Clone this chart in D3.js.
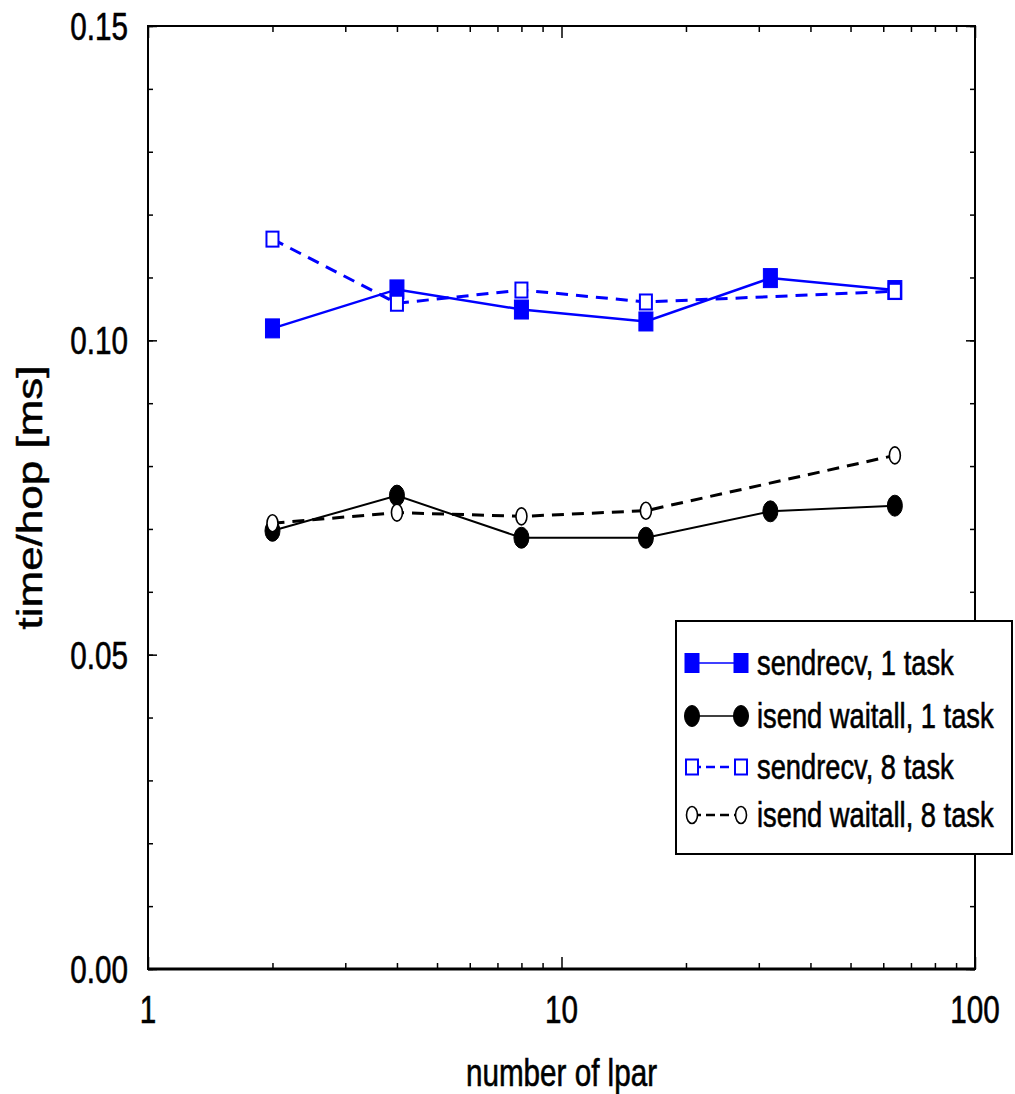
<!DOCTYPE html>
<html>
<head>
<meta charset="utf-8">
<script src="https://cdn.jsdelivr.net/npm/d3@7"></script>
<style>
  body { margin: 0; background: #fff; }
  text { font-family: "Liberation Sans", Arial, Helvetica, sans-serif; fill: #000; stroke: #000; stroke-width: 0.6; }
</style>
</head>
<body>
<svg id="chart" width="1015" height="1094"></svg>
<script>
// Measured time per hop versus number of LPARs
const lparCounts  = [2, 4, 8, 16, 32, 64];
const lparCounts8 = [2, 4, 8, 16, 64];
const sendrecv1 = [0.1019, 0.1081, 0.1049, 0.1030, 0.1099, 0.1080];
const isend1    = [0.0697, 0.0753, 0.0686, 0.0686, 0.0728, 0.0737];
const sendrecv8 = [0.1161, 0.1059, 0.1080, 0.1061, 0.1078];
const isend8    = [0.0709, 0.0726, 0.0720, 0.0729, 0.0817];

const yMajorTicks = [0, 0.05, 0.10, 0.15];
const yMinorTicks = d3.range(0, 0.1501, 0.01);
const xMajorTicks = [1, 10, 100];
const xMinorTicks = [2,3,4,5,6,7,8,9,20,30,40,50,60,70,80,90];
const seriesLabels = ["sendrecv, 1 task", "isend waitall, 1 task", "sendrecv, 8 task", "isend waitall, 8 task"];

const m = { left: 148, right: 975, top: 26, bottom: 969 };
const squeeze = 0.78;   // glyphs are drawn narrower than tall

const svg = d3.select("#chart");
const x = d3.scaleLog().domain([1, 100]).range([m.left, m.right]);
const y = d3.scaleLinear().domain([0, 0.15]).range([m.bottom, m.top]);

const BLUE = "#0000ff", BLACK = "#000";

const series = [
  { label: seriesLabels[0], xs: lparCounts,  ys: sendrecv1, color: BLUE,  dash: null,   width: 2.5, marker: "square", filled: true },
  { label: seriesLabels[1], xs: lparCounts,  ys: isend1,    color: BLACK, dash: null,   width: 2,   marker: "circle", filled: true },
  { label: seriesLabels[2], xs: lparCounts8, ys: sendrecv8, color: BLUE,  dash: "12,8", width: 3,   marker: "square", filled: false },
  { label: seriesLabels[3], xs: lparCounts8, ys: isend8,    color: BLACK, dash: "12,8", width: 3,   marker: "circle", filled: false }
];

function drawMarker(g, s, cx, cy) {
  if (s.marker === "square") {
    const w = s.filled ? 14 : 12, h = s.filled ? 19 : 15;
    g.append("rect")
      .attr("x", cx - w / 2).attr("y", cy - h / 2)
      .attr("width", w).attr("height", h)
      .attr("fill", s.filled ? s.color : "#fff")
      .attr("stroke", s.color)
      .attr("stroke-width", s.filled ? 1 : 2);
  } else {
    const rx = s.filled ? 7.5 : 5.5, ry = s.filled ? 10.5 : 8.5;
    g.append("ellipse")
      .attr("cx", cx).attr("cy", cy)
      .attr("rx", rx).attr("ry", ry)
      .attr("fill", s.filled ? s.color : "#fff")
      .attr("stroke", s.color)
      .attr("stroke-width", s.filled ? 1 : 1.6);
  }
}

// Frame
svg.append("rect")
  .attr("x", m.left).attr("y", m.top)
  .attr("width", m.right - m.left).attr("height", m.bottom - m.top)
  .attr("fill", "none").attr("stroke", "#000").attr("stroke-width", 2);
svg.append("line")
  .attr("x1", m.left).attr("x2", m.right)
  .attr("y1", m.bottom).attr("y2", m.bottom)
  .attr("stroke", "#000").attr("stroke-width", 3);

// Inward ticks on all four sides
function tickAxis(axis, transform, values, size) {
  const g = svg.append("g").attr("transform", transform)
    .call(axis.tickValues(values).tickSize(size).tickFormat(""));
  g.select(".domain").remove();
  g.selectAll(".tick line").attr("stroke", "#000").attr("stroke-width", 1.5);
  return g;
}
tickAxis(d3.axisLeft(y),   `translate(${m.left},0)`,  yMajorTicks, -9);
tickAxis(d3.axisLeft(y),   `translate(${m.left},0)`,  yMinorTicks, -5);
tickAxis(d3.axisRight(y),  `translate(${m.right},0)`, yMajorTicks, -9);
tickAxis(d3.axisRight(y),  `translate(${m.right},0)`, yMinorTicks, -5);
tickAxis(d3.axisBottom(x), `translate(0,${m.bottom})`, xMajorTicks, -12);
tickAxis(d3.axisBottom(x), `translate(0,${m.bottom})`, xMinorTicks, -6);
tickAxis(d3.axisTop(x),    `translate(0,${m.top})`,   xMajorTicks, -12);
tickAxis(d3.axisTop(x),    `translate(0,${m.top})`,   xMinorTicks, -6);

// Tick labels
const fmtY = d3.format(".2f");
svg.append("g").selectAll("text").data(yMajorTicks).join("text")
  .attr("transform", d => `translate(128,${y(d) + 14}) scale(${squeeze},1)`)
  .attr("text-anchor", "end")
  .attr("font-size", 38)
  .text(fmtY);
svg.append("g").selectAll("text").data(xMajorTicks).join("text")
  .attr("transform", d => `translate(${x(d)},1023) scale(${squeeze},1)`)
  .attr("text-anchor", "middle")
  .attr("font-size", 38)
  .text(d => d);

// Axis titles
svg.append("text")
  .attr("transform", `translate(${(m.left + m.right) / 2},1086) scale(${squeeze},1)`)
  .attr("text-anchor", "middle")
  .attr("font-size", 38)
  .text("number of lpar");
svg.append("text")
  .attr("transform", `translate(42,${(m.top + m.bottom) / 2}) scale(${squeeze},1) rotate(-90)`)
  .attr("text-anchor", "middle")
  .attr("font-size", 44)
  .attr("stroke-width", 1)
  .text("time/hop [ms]");

// Series lines and markers
const line = d3.line().x(d => x(d[0])).y(d => y(d[1]));
const plot = svg.append("g");
series.forEach(s => {
  const pts = s.xs.map((v, i) => [v, s.ys[i]]);
  const g = plot.append("g");
  g.append("path")
    .attr("d", line(pts))
    .attr("fill", "none")
    .attr("stroke", s.color)
    .attr("stroke-width", s.width)
    .attr("stroke-dasharray", s.dash);
  pts.forEach(p => drawMarker(g, s, x(p[0]), y(p[1])));
});

// Legend
const lg = svg.append("g");
lg.append("rect")
  .attr("x", 676).attr("y", 621).attr("width", 336).attr("height", 233)
  .attr("fill", "#fff").attr("stroke", "#000").attr("stroke-width", 2);
const rowY = [663, 716, 767, 815];
series.forEach((s, i) => {
  const cy = rowY[i];
  const row = lg.append("g");
  row.append("line")
    .attr("x1", 692).attr("x2", 741).attr("y1", cy).attr("y2", cy)
    .attr("stroke", s.color)
    .attr("stroke-width", s.dash ? 2.5 : 1.5)
    .attr("stroke-dasharray", s.dash ? "9,5" : null);
  drawMarker(row, s, 692, cy);
  drawMarker(row, s, 741, cy);
  row.append("text")
    .attr("transform", `translate(757,${cy + 12}) scale(${squeeze},1)`)
    .attr("font-size", 35)
    .text(s.label);
});
</script>
</body>
</html>
